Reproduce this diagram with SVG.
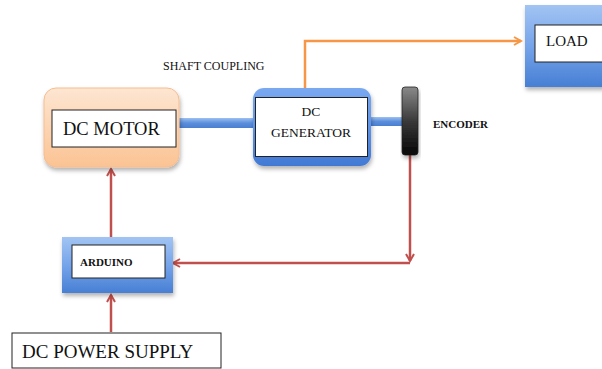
<svg xmlns="http://www.w3.org/2000/svg" width="602" height="369" viewBox="0 0 602 369">
  <style>
    .lbl { font-family: "Liberation Serif", "Times New Roman", serif; fill: #111; }
    .bold { font-weight: bold; }
    .inner { fill: #fff; stroke: #222; stroke-width: 1; }
    .red { stroke: #c0504d; stroke-width: 2.5; fill: none; }
    .org { stroke: #f79646; stroke-width: 2.5; fill: none; }
  </style>
  <defs>
    <linearGradient id="blueGrad" x1="0" y1="0" x2="0" y2="1">
      <stop offset="0" stop-color="#a2c4f3"/>
      <stop offset="0.5" stop-color="#76a4ea"/>
      <stop offset="1" stop-color="#477fd4"/>
    </linearGradient>
    <linearGradient id="genGrad" x1="0" y1="0" x2="0" y2="1">
      <stop offset="0" stop-color="#7aa9f0"/>
      <stop offset="0.5" stop-color="#5d93e8"/>
      <stop offset="1" stop-color="#4179d4"/>
    </linearGradient>
    <linearGradient id="orangeGrad" x1="0" y1="0" x2="0" y2="1">
      <stop offset="0" stop-color="#fde6d2"/>
      <stop offset="1" stop-color="#fbc393"/>
    </linearGradient>
    <linearGradient id="shaftGrad" x1="0" y1="0" x2="0" y2="1">
      <stop offset="0" stop-color="#9cc0f2"/>
      <stop offset="0.5" stop-color="#5b8fdc"/>
      <stop offset="1" stop-color="#4a7fd0"/>
    </linearGradient>
    <linearGradient id="encGrad" x1="0" y1="0" x2="0" y2="1">
      <stop offset="0" stop-color="#8a8a8a"/>
      <stop offset="0.5" stop-color="#3a3a3a"/>
      <stop offset="1" stop-color="#050505"/>
    </linearGradient>
    <filter id="shadow" x="-10%" y="-10%" width="125%" height="130%">
      <feDropShadow dx="1" dy="3" stdDeviation="2" flood-color="#000" flood-opacity="0.3"/>
    </filter>
    <marker id="arrRed" markerWidth="10" markerHeight="10" refX="8" refY="5" orient="auto" markerUnits="userSpaceOnUse">
      <path d="M1,1 L8,5 L1,9" fill="none" stroke="#c0504d" stroke-width="2"/>
    </marker>
    <marker id="arrOrg" markerWidth="10" markerHeight="10" refX="8" refY="5" orient="auto" markerUnits="userSpaceOnUse">
      <path d="M1,1 L8,5 L1,9" fill="none" stroke="#f79646" stroke-width="2"/>
    </marker>
  </defs>

  <rect width="602" height="369" fill="#fff"/>

  <!-- shafts and connectors -->
  <g id="connectors">
    <rect x="178" y="118" width="80" height="10" fill="url(#shaftGrad)"/>
    <rect x="368" y="117" width="35" height="9" fill="url(#shaftGrad)"/>
    <path class="org" d="M305,89 V41 H521" marker-end="url(#arrOrg)"/>
    <path class="red" d="M410,155 V261" marker-end="url(#arrRed)"/>
    <path class="red" d="M410,263 H173" marker-end="url(#arrRed)"/>
    <path class="red" d="M111,237 V169" marker-end="url(#arrRed)"/>
    <path class="red" d="M111,332 V295" marker-end="url(#arrRed)"/>
  </g>

  <g id="motor">
    <rect x="44" y="88" width="135" height="79" rx="12" fill="url(#orangeGrad)" stroke="#f6bd92" stroke-width="1" filter="url(#shadow)"/>
    <rect class="inner" x="52" y="110" width="124" height="37"/>
    <text class="lbl" x="63" y="135" font-size="18.5">DC MOTOR</text>
  </g>

  <g id="generator">
    <rect x="253" y="88" width="118" height="78" rx="11" fill="url(#genGrad)" filter="url(#shadow)"/>
    <rect class="inner" x="255.5" y="97.5" width="112" height="59" stroke-width="1.5"/>
    <text class="lbl" x="311" y="116" font-size="13.5" text-anchor="middle">DC</text>
    <text class="lbl" x="311" y="137" font-size="13.5" text-anchor="middle">GENERATOR</text>
  </g>

  <g id="encoder">
    <rect x="402" y="87" width="16" height="68" rx="3" fill="url(#encGrad)" stroke="#222" stroke-width="0.8" filter="url(#shadow)"/>
    <text class="lbl bold" x="433" y="128" font-size="11">ENCODER</text>
  </g>

  <g id="load">
    <rect x="525" y="5" width="85" height="82" fill="url(#blueGrad)" filter="url(#shadow)"/>
    <rect class="inner" x="535" y="25" width="75" height="37"/>
    <text class="lbl" x="546" y="46" font-size="15">LOAD</text>
  </g>

  <g id="coupling-label">
    <text class="lbl" x="163" y="70" font-size="12">SHAFT COUPLING</text>
  </g>

  <g id="arduino">
    <rect x="62" y="237" width="111" height="56" fill="url(#blueGrad)" filter="url(#shadow)"/>
    <rect class="inner" x="72" y="245" width="93" height="33"/>
    <text class="lbl bold" x="80" y="266" font-size="11">ARDUINO</text>
  </g>

  <g id="power-supply">
    <rect class="inner" x="12" y="333" width="209" height="35"/>
    <text class="lbl" x="22" y="358" font-size="19">DC POWER SUPPLY</text>
  </g>
</svg>
